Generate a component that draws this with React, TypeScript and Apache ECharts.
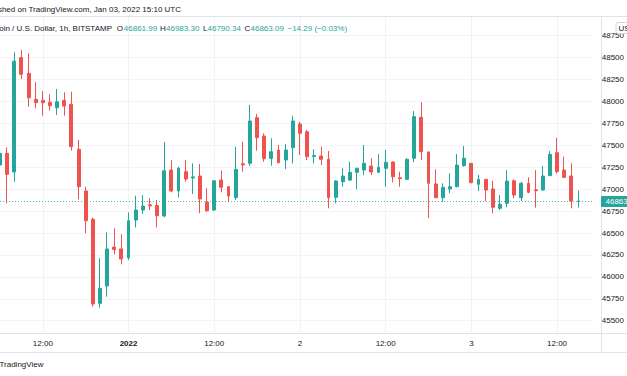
import React, { useEffect, useRef } from "react";
import * as echarts from "echarts";

// Bitcoin / U.S. Dollar, 1h, BITSTAMP — candles from Dec 31 2021 06:00 to Jan 03 2022 15:00 (UTC)
const opens = [
  47275, 47409, 47196, 48500, 48321, 48025, 48013, 47990, 47929, 48013,
  47968, 47455, 46979, 46656, 45698, 45896, 46340, 46318, 46218, 46648,
  46762, 46822, 46815, 46694, 47218, 46979, 47199, 47128, 47150, 46853,
  46762, 47104, 47028, 46903, 47290, 47295, 47815, 47606, 47352, 47447,
  47333, 47473, 47743, 47655, 47372, 47378, 47340, 46907, 47085, 47104,
  47192, 47218, 47264, 47192, 47238, 47310, 47130, 47112, 47352, 47819,
  47424, 47059, 46903, 47002, 47028, 47268, 47295, 47055, 47112, 47002,
  46782, 46839, 47096, 46903, 47067, 46992, 46990, 47154, 47416, 47218,
  47150, 46861.99,
];
const closes = [
  47409, 47169, 48460, 48310, 48043, 47986, 47986, 47952, 47997, 47948,
  47484, 47028, 46640, 45690, 45869, 46318, 46312, 46204, 46640, 46762,
  46808, 46810, 46697, 47210, 46979, 47238, 47116, 47140, 46888, 46754,
  47096, 47021, 46922, 47226, 47276, 47777, 47587, 47347, 47427, 47302,
  47447, 47777, 47637, 47370, 47385, 47340, 46903, 47093, 47150, 47192,
  47238, 47295, 47196, 47249, 47306, 47142, 47120, 47340, 47827, 47427,
  47067, 46903, 47021, 47028, 47275, 47352, 47074, 47112, 46990, 46793,
  46827, 47093, 46933, 47067, 46964, 46982, 47150, 47397, 47199, 47135,
  46865, 46863.09,
];
const lows = [
  47240, 46839, 47085, 48256, 47940, 47922, 47838, 47895, 47846, 47838,
  47439, 46884, 46497, 45660, 45648, 45774, 46257, 46143, 46192, 46565,
  46717, 46762, 46565, 46679, 46964, 46907, 47085, 46945, 46725, 46743,
  46754, 46964, 46857, 46876, 47199, 47264, 47439, 47313, 47268, 47295,
  47230, 47295, 47390, 47332, 47295, 47275, 46782, 46839, 47028, 47093,
  46998, 47161, 47161, 47188, 47028, 47078, 47028, 47104, 47306, 47332,
  46668, 46898, 46857, 46953, 47021, 47256, 47067, 46979, 46865, 46725,
  46762, 46793, 46896, 46865, 46953, 46789, 46985, 47150, 47181, 47124,
  46782, 46790.34,
];
const highs = [
  47440, 47477, 48561, 48587, 48549, 48219, 48119, 48082, 48142, 48105,
  48111, 47561, 47028, 46675, 46211, 46508, 46554, 46485, 46736, 46925,
  46933, 46896, 46876, 47541, 47332, 47256, 47332, 47294, 47287, 47010,
  47104, 47210, 47036, 47484, 47541, 47960, 47857, 47637, 47580, 47503,
  47515, 47838, 47769, 47675, 47454, 47484, 47435, 47104, 47238, 47313,
  47245, 47503, 47352, 47401, 47447, 47315, 47199, 47352, 47891, 47990,
  47430, 47226, 47067, 47181, 47401, 47492, 47300, 47161, 47115, 47096,
  46933, 47218, 47112, 47085, 47135, 47218, 47264, 47435, 47587, 47370,
  47295, 46983.3,
];

const priceTicks = [
  45500, 45750, 46000, 46250, 46500, 46750, 47000, 47250, 47500, 47750,
  48000, 48250, 48500, 48750,
];
const lastPrice = 46863.09;
const priceMin = 45356.5;
const priceMax = 48966.7;

// hourly slots: 82 candles + 2 empty slots on the right
const slotCount = 84;
const startUtc = Date.UTC(2021, 11, 31, 6, 0, 0);
const categories: string[] = [];
for (let i = 0; i < slotCount; i++) {
  const d = new Date(startUtc + i * 3600 * 1000);
  const p = (n: number) => String(n).padStart(2, "0");
  categories.push(
    `${d.getUTCFullYear()}-${p(d.getUTCMonth() + 1)}-${p(d.getUTCDate())} ${p(d.getUTCHours())}:00`
  );
}
const timeTickLabels: Record<string, string> = {
  "2021-12-31 12:00": "12:00",
  "2022-01-01 00:00": "2022",
  "2022-01-01 12:00": "12:00",
  "2022-01-02 00:00": "2",
  "2022-01-02 12:00": "12:00",
  "2022-01-03 00:00": "3",
  "2022-01-03 12:00": "12:00",
};

const UP = "#26a69a";
const DOWN = "#ef5350";
const GRID = "#f0f3fa";
const BORDER = "#e0e3eb";
const TXT = "#131722";
const FONT = '"Liberation Sans", Arial, sans-serif';

export default function App() {
  const ref = useRef<HTMLDivElement>(null);

  useEffect(() => {
    if (!ref.current) return;
    const chart = echarts.init(ref.current, undefined, { renderer: "svg" });
    const candleData = opens.map((o, i) => [o, closes[i], lows[i], highs[i]]);
    const isTick = (idx: number) => idx >= 6 && (idx - 6) % 12 === 0;
    const f = (s: number) => `${s}px ${FONT}`;

    const txt = (x: number, y: number, text: string, fill: string, align = "left", extra: any = {}) => ({
      type: "text",
      x,
      y,
      z: 100,
      style: {
        text,
        fill,
        font: f(8),
        align,
        textAlign: align,
        verticalAlign: "middle",
        textVerticalAlign: "middle",
        ...extra,
      },
    });

    chart.setOption({
      animation: false,
      backgroundColor: "#ffffff",
      grid: { left: -0.55, right: 29.3, top: 16.7, bottom: 42.7, containLabel: false },
      xAxis: {
        type: "category",
        data: categories,
        boundaryGap: false,
        axisLine: { show: false },
        axisTick: { show: false },
        axisLabel: {
          interval: (idx: number) => isTick(idx),
          margin: 6,
          fontSize: 8,
          fontFamily: FONT,
          color: TXT,
          formatter: (v: string) => {
            const l = timeTickLabels[v] || "";
            return l === "2022" ? `{b|${l}}` : l;
          },
          rich: { b: { fontWeight: "bold", fontSize: 8, fontFamily: FONT, color: TXT } },
        },
        splitLine: {
          show: true,
          interval: (idx: number) => isTick(idx),
          lineStyle: { color: GRID, width: 1 },
        },
      },
      yAxis: {
        type: "value",
        position: "right",
        min: priceMin,
        max: priceMax,
        scale: true,
        axisLine: { show: false },
        axisTick: { show: false, customValues: priceTicks },
        axisLabel: {
          customValues: priceTicks,
          margin: 9,
          fontSize: 8,
          fontFamily: FONT,
          color: TXT,
          formatter: (v: number) => String(Math.round(v)),
        },
        splitLine: { show: true, lineStyle: { color: GRID, width: 1 } },
      },
      series: [
        {
          type: "candlestick",
          data: candleData,
          barWidth: 3.4,
          itemStyle: {
            color: UP,
            color0: DOWN,
            borderColor: UP,
            borderColor0: DOWN,
            borderWidth: 1,
          },
          markLine: {
            silent: true,
            symbol: ["none", "none"],
            label: { show: false },
            lineStyle: { color: UP, type: [1, 2], width: 1, opacity: 0.8 },
            data: [{ yAxis: lastPrice }],
          },
        },
      ],
      graphic: [
        // borders
        { type: "line", z: 50, shape: { x1: 0, y1: 16.5, x2: 627, y2: 16.5 }, style: { stroke: BORDER, lineWidth: 1 } },
        { type: "line", z: 50, shape: { x1: 0, y1: 333.5, x2: 627, y2: 333.5 }, style: { stroke: BORDER, lineWidth: 1 } },
        { type: "line", z: 50, shape: { x1: 0, y1: 352.5, x2: 627, y2: 352.5 }, style: { stroke: BORDER, lineWidth: 1 } },
        { type: "line", z: 50, shape: { x1: 601.5, y1: 16.5, x2: 601.5, y2: 352.5 }, style: { stroke: BORDER, lineWidth: 1 } },
        // header
        txt(181, 9.8, "Published on TradingView.com, Jan 03, 2022 15:10 UTC", TXT, "right"),
        // legend
        txt(112, 28.3, "Bitcoin / U.S. Dollar, 1h, BITSTAMP", TXT, "right"),
        txt(116.8, 28.3, "O", TXT),
        txt(123.8, 28.3, "46861.99", UP),
        txt(160, 28.3, "H", TXT),
        txt(166, 28.3, "46983.30", UP),
        txt(203, 28.3, "L", TXT),
        txt(207.5, 28.3, "46790.34", UP),
        txt(244.5, 28.3, "C", TXT),
        txt(250.5, 28.3, "46863.09", UP),
        txt(287.5, 28.3, "\u221214.29 (\u22120.03%)", UP),
        // footer
        txt(43.5, 364, "TradingView", TXT, "right"),
        // currency box
        {
          type: "rect",
          z: 100,
          shape: { x: 616, y: 22.5, width: 22, height: 11, r: 2 },
          style: { fill: "#ffffff", stroke: "#d1d4dc", lineWidth: 1 },
        },
        txt(618.5, 28.2, "USD", TXT, "left", { z2: 101 }),
        // last price label
        {
          type: "rect",
          z: 100,
          shape: { x: 601, y: 196, width: 30, height: 11, r: 1 },
          style: { fill: UP },
        },
        txt(605.5, 201.6, "46863.09", "#ffffff"),
      ],
    });

    return () => chart.dispose();
  }, []);

  return (
    <div
      ref={ref}
      style={{ position: "fixed", left: 0, top: 0, width: 627, height: 376, background: "#fff" }}
    />
  );
}
